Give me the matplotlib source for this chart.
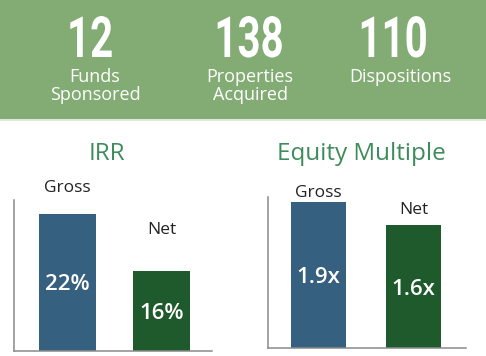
import matplotlib
matplotlib.use("Agg")
import matplotlib.pyplot as plt
from matplotlib import font_manager as fm
from matplotlib.patches import Rectangle
from matplotlib.patheffects import AbstractPathEffect
from matplotlib.transforms import Affine2D

# ---- data ----
stat_values = ["12", "138", "110"]
stat_labels = [["Funds", "Sponsored"], ["Properties", "Acquired"], ["Dispositions"]]

irr_categories = ["Gross", "Net"]
irr_values = [22, 16]
irr_labels = ["22%", "16%"]

em_categories = ["Gross", "Net"]
em_values = [1.9, 1.6]
em_labels = ["1.9x", "1.6x"]

# ---- styles ----
W, H = 486, 356
BAND = "#83ac74"
BLUE = "#36607f"
DKGREEN = "#1f5a2c"
TITLE_GREEN = "#3d8c5c"
AXIS_GRAY = "#8a8a8a"

names = {f.name for f in fm.fontManager.ttflist}
NUM_FONT = "Roboto" if "Roboto" in names else "DejaVu Sans"
TXT_FONT = "Open Sans" if "Open Sans" in names else "DejaVu Sans"


class VStretch(AbstractPathEffect):
    """Draw text glyphs stretched vertically about the baseline (condensed look)."""
    def __init__(self, sy):
        super().__init__()
        self.sy = sy

    def draw_path(self, renderer, gc, tpath, affine, rgbFace=None):
        renderer.draw_path(gc, tpath, Affine2D().scale(1, self.sy) + affine, rgbFace)


fig = plt.figure(figsize=(W / 100, H / 100), dpi=100)
fig.patch.set_facecolor("white")


def fx(px):
    return px / W


def fy(py):
    return 1 - py / H


# header band
fig.patches.append(Rectangle((0, fy(119)), 1, 119 / H, transform=fig.transFigure,
                             facecolor=BAND, edgecolor="none", zorder=0))
fig.patches.append(Rectangle((0, fy(121)), 1, 2 / H, transform=fig.transFigure,
                             facecolor="#dfe8da", edgecolor="none", zorder=0))

centers = [90, 249, 393]
label_centers = [95, 250, 400]
for cx, lx, val, labs in zip(centers, label_centers, stat_values, stat_labels):
    fig.text(fx(cx), fy(57), val, ha="center", va="baseline", color="white",
             fontsize=29, fontweight="bold", family=NUM_FONT,
             path_effects=[VStretch(1.41)])
    for i, lab in enumerate(labs):
        fig.text(fx(lx), fy(82 + 18 * i), lab, ha="center", va="baseline",
                 color="white", fontsize=13, family=TXT_FONT)


def panel(left, right, top, bottom, cats, vals, labs, ylim, xlim, width,
          above_off, title, title_x, colors):
    ax = fig.add_axes([fx(left), fy(bottom), fx(right - left), (bottom - top) / H])
    ax.set_facecolor("none")
    x = list(range(len(cats)))
    ax.bar(x, vals, width=width, color=colors, zorder=2)
    ax.set_ylim(*ylim)
    ax.set_xlim(*xlim)
    for s in ["top", "right"]:
        ax.spines[s].set_visible(False)
    for s in ["left", "bottom"]:
        ax.spines[s].set_color(AXIS_GRAY)
        ax.spines[s].set_linewidth(1.1)
    ax.set_xticks([])
    ax.set_yticks([])
    for xi, v, c, lab, off in zip(x, vals, cats, labs, above_off):
        ax.annotate(c, (xi, v), xytext=(0, off * 0.72), textcoords="offset points",
                    ha="center", va="baseline", fontsize=12.5, color="#222222",
                    family=TXT_FONT)
        mid = (max(ylim[0], 0) + v) / 2
        ax.annotate(lab, (xi, mid), xytext=(0, -8 * 0.72), textcoords="offset points",
                    ha="center", va="baseline", fontsize=16, color="white",
                    fontweight="semibold", family=TXT_FONT)
    fig.text(fx(title_x), fy(160), title, ha="center", va="baseline",
             fontsize=17.5, color=TITLE_GREEN, family=TXT_FONT)
    return ax


panel(14, 212, 200, 351, irr_categories, irr_values, irr_labels,
      (7.58, 23.47), (-0.569, 1.537), 0.61, [22, 37], "IRR", 107,
      [BLUE, DKGREEN])
panel(268, 466, 197, 348, em_categories, em_values, em_labels,
      (0, 1.965), (-0.532, 1.553), 0.58, [5, 11], "Equity Multiple", 361,
      [BLUE, DKGREEN])

fig.savefig("out.png", dpi=100, facecolor="white")
